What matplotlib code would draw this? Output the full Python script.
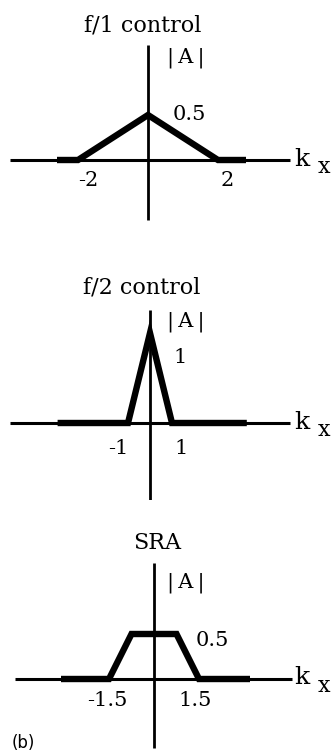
import matplotlib.pyplot as plt

# |A| versus k_x for the three apodisation schemes
f1_k = [-2.6, -2.0, 0.0, 2.0, 2.8]
f1_a = [0.0, 0.0, 0.5, 0.0, 0.0]

f2_k = [-4.2, -1.0, 0.0, 1.0, 4.4]
f2_a = [0.0, 0.0, 1.0, 0.0, 0.0]

sra_k = [-3.1, -1.5, -0.75, 0.75, 1.5, 3.2]
sra_a = [0.0, 0.0, 0.5, 0.5, 0.0, 0.0]

W, H = 333, 756
SERIF = "DejaVu Serif"

fig = plt.figure(figsize=(W / 100, H / 100), dpi=100)


def label(px, py, s, size=15, ha="center", family=SERIF):
    """Place text at a pixel position measured from the top-left corner."""
    fig.text(px / W, 1 - py / H, s, ha=ha, va="center", fontsize=size,
             family=family)


def panel(top, bottom, cx, cy, sx, sy, k, a, xext, yext, a_y):
    """Draw one |A|(k_x) sketch inside a horizontal strip of the figure."""
    ax = fig.add_axes([0, 1 - bottom / H, 1, (bottom - top) / H])
    ax.set_xlim(-cx / sx, (W - cx) / sx)
    ax.set_ylim((cy - bottom) / sy, (cy - top) / sy)
    ax.axis("off")

    # thin coordinate axes
    ax.plot(xext, [0, 0], color="black", lw=2.2, solid_capstyle="butt")
    ax.plot([0, 0], yext, color="black", lw=2.0, solid_capstyle="butt")
    # thick response curve
    ax.plot(k, a, color="black", lw=4.6, solid_joinstyle="miter",
            solid_capstyle="butt")

    # k_x label and |A| label
    label(302, cy - 1, "k", size=18)
    label(324, cy + 7, "x", size=16)
    label(186, a_y, "|\u2009A\u2009|", size=15)
    return ax


panel(0, 250, 148, 160, 35, 90, f1_k, f1_a, [-3.95, 4.05], [-0.67, 1.28], 58)
label(143, 25, "f/1 control", size=16)
label(189, 115, "0.5")
label(88, 180, "-2")
label(227, 180, "2")

panel(250, 500, 150, 423, 22, 90, f2_k, f2_a, [-6.35, 6.35], [-0.89, 1.26], 322)
label(142, 287, "f/2 control", size=16)
label(180, 358, "1")
label(118, 448, "-1")
label(181, 448, "1")

panel(500, 756, 154, 679, 30, 90, sra_k, sra_a, [-4.65, 4.6], [-0.77, 1.29], 583)
label(157, 543, "SRA", size=16)
label(212, 640, "0.5")
label(107, 700, "-1.5")
label(195, 700, "1.5")
label(12, 743, "(b)", size=12, ha="left", family="DejaVu Sans")

fig.savefig("out.png", dpi=100)
